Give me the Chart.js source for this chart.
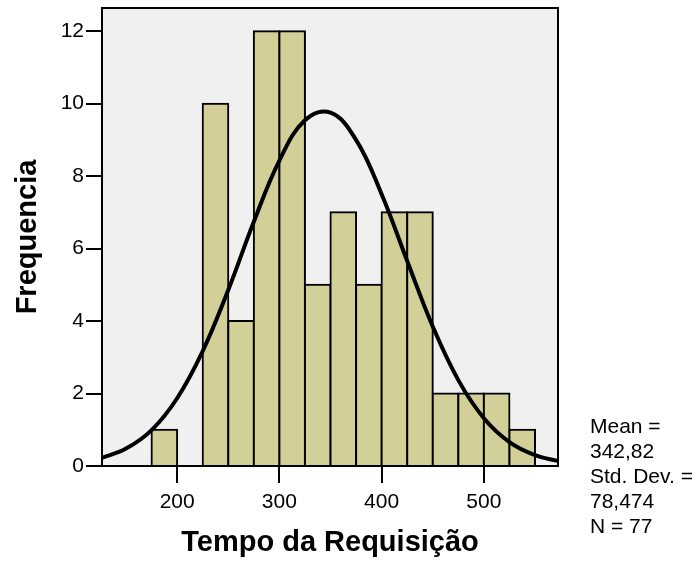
<!DOCTYPE html>
<html>
<head>
<meta charset="utf-8">
<script src="https://cdn.jsdelivr.net/npm/chart.js@4.4.0/dist/chart.umd.min.js"></script>
<style>
  html, body { margin: 0; padding: 0; background: #fff; }
  #wrap { position: relative; width: 699px; height: 565px; }
  #stats {
    position: absolute; left: 590px; top: 413px;
    font: 21px/25px "Liberation Sans", Arial, sans-serif;
    color: #000; white-space: nowrap;
  }
</style>
</head>
<body>
<div id="wrap">
  <canvas id="histChart" width="699" height="565"></canvas>
  <div id="stats"></div>
</div>
<script>
// Histogram bins (width 25), centre of each bin
const binCenters = [187.5, 212.5, 237.5, 262.5, 287.5, 312.5, 337.5, 362.5, 387.5, 412.5, 437.5, 462.5, 487.5, 512.5, 537.5];
const frequencies = [1, 0, 10, 4, 12, 12, 5, 7, 5, 7, 7, 2, 2, 2, 1];

// Normal curve
const curveX = [125, 150, 175, 200, 225, 250, 275, 300, 325, 350, 375, 400, 425, 450, 475, 500, 525, 550, 575];
const curveY = [0.21, 0.48, 0.99, 1.87, 3.17, 4.86, 6.74, 8.43, 9.54, 9.75, 9.00, 7.50, 5.66, 3.85, 2.37, 1.32, 0.66, 0.30, 0.12];

const xTicks = [200, 300, 400, 500];
const statsLines = ['Mean =', '342,82', 'Std. Dev. =', '78,474', 'N = 77'];

const FONT = '"Liberation Sans", Arial, sans-serif';

document.getElementById('stats').innerHTML = statsLines.join('<br>');

// grey plot background + black frame
const plotFrame = {
    id: 'plotFrame',
    beforeDraw(chart) {
        const { ctx, chartArea: a } = chart;
        ctx.save();
        ctx.fillStyle = '#f0f0f0';
        ctx.fillRect(a.left, a.top, a.width, a.height);
        ctx.restore();
    },
    afterDatasetsDraw(chart) {
        const { ctx, chartArea: a } = chart;
        ctx.save();
        ctx.strokeStyle = '#000';
        ctx.lineWidth = 2;
        ctx.strokeRect(a.left, a.top, a.width, a.height);
        ctx.restore();
    }
};

const ctx = document.getElementById('histChart').getContext('2d');
new Chart(ctx, {
    type: 'bar',
    data: {
        datasets: [{
            type: 'line',
            order: 0,
            data: curveX.map((x, i) => ({ x: x, y: curveY[i] })),
            borderColor: '#000',
            borderWidth: 4,
            pointRadius: 0,
            tension: 0.4,
            fill: false
        }, {
            type: 'bar',
            order: 1,
            data: binCenters.map((x, i) => ({ x: x, y: frequencies[i] })),
            backgroundColor: '#d3cf98',
            borderColor: '#000',
            borderWidth: 2,
            inflateAmount: 1,
            barPercentage: 1,
            categoryPercentage: 1
        }]
    },
    options: {
        responsive: false,
        animation: false,
        layout: { padding: { top: 8, right: 141, bottom: 0, left: 0 } },
        plugins: { legend: { display: false }, tooltip: { enabled: false } },
        scales: {
            x: {
                type: 'linear',
                offset: false,
                min: 126.5,
                max: 572.5,
                afterBuildTicks: s => { s.ticks = xTicks.map(v => ({ value: v })); },
                afterFit: s => { s.height = 99; s.paddingLeft = 0; s.paddingRight = 0; },
                grid: { offset: false, drawOnChartArea: false, drawTicks: true, tickLength: 17, color: '#000', lineWidth: 2 },
                border: { display: true, color: '#000', width: 2 },
                ticks: { color: '#000', font: { family: FONT, size: 21 }, padding: 7, maxRotation: 0, autoSkip: false },
                title: {
                    display: true, text: 'Tempo da Requisição', color: '#000',
                    font: { family: FONT, size: 29, weight: 'bold' },
                    padding: { top: 0, bottom: 5 }
                }
            },
            y: {
                min: 0,
                max: 12.64,
                afterFit: s => { s.width = 102; s.paddingTop = 0; s.paddingBottom = 0; },
                grid: { drawOnChartArea: false, drawTicks: true, tickLength: 16, color: '#000', lineWidth: 2 },
                border: { display: true, color: '#000', width: 2 },
                ticks: { stepSize: 2, includeBounds: false, color: '#000', font: { family: FONT, size: 21 }, padding: 2 },
                title: {
                    display: true, text: 'Frequencia', color: '#000',
                    font: { family: FONT, size: 29, weight: 'bold' },
                    padding: { top: 11, bottom: 0 }
                }
            }
        }
    },
    plugins: [plotFrame]
});
</script>
</body>
</html>
